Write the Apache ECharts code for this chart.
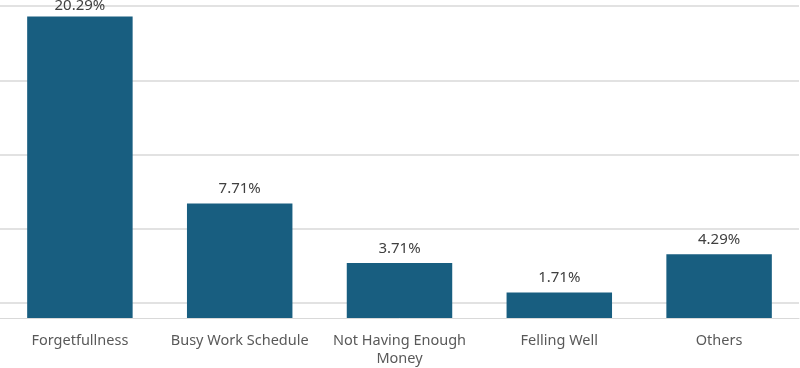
<!DOCTYPE html>
<html>
<head>
<meta charset="utf-8">
<script src="https://cdn.jsdelivr.net/npm/echarts@6/dist/echarts.min.js"></script>
<style>
  html, body { margin: 0; padding: 0; background: #fff; }
  #main { width: 800px; height: 368px; }
</style>
</head>
<body>
<div id="main"></div>
<script>
const categories = ['Forgetfullness', 'Busy Work Schedule', 'Not Having Enough\nMoney', 'Felling Well', 'Others'];
const values = [20.29, 7.71, 3.71, 1.71, 4.29];
const gridValues = [1, 6, 11, 16, 21];

var chart = echarts.init(document.getElementById('main'));

var option = {
  animation: false,
  textStyle: { fontFamily: 'Noto Sans' },
  grid: { left: 0, right: 1, top: 6, bottom: 48 },
  xAxis: {
    type: 'category',
    data: categories,
    axisLine: { lineStyle: { color: '#d9d9d9', width: 1 } },
    axisTick: { show: false },
    axisLabel: { interval: 0, color: '#595959', fontSize: 14.5, margin: 14, lineHeight: 18 }
  },
  yAxis: {
    type: 'value',
    min: 0,
    max: 21,
    show: false,
    splitLine: { show: false }
  },
  series: [
    {
      type: 'line',
      data: [],
      z: 1,
      silent: true,
      markLine: {
        z: 1,
        silent: true,
        symbol: 'none',
        label: { show: false },
        lineStyle: { color: '#d9d9d9', type: 'solid', width: 1.5 },
        data: gridValues.map(v => ({ yAxis: v }))
      }
    },
    {
      type: 'bar',
      z: 3,
      // the tallest bar's label sits closer so it is not cut off at the top
      data: values.map((v, i) => i === 0 ? { value: v, label: { distance: 3 } } : v),
      barWidth: '66%',
      itemStyle: { color: '#185e80' },
      label: {
        show: true,
        position: 'top',
        distance: 7,
        color: '#404040',
        fontSize: 15,
        formatter: p => p.value.toFixed(2) + '%'
      }
    }
  ]
};

chart.setOption(option);
</script>
</body>
</html>
